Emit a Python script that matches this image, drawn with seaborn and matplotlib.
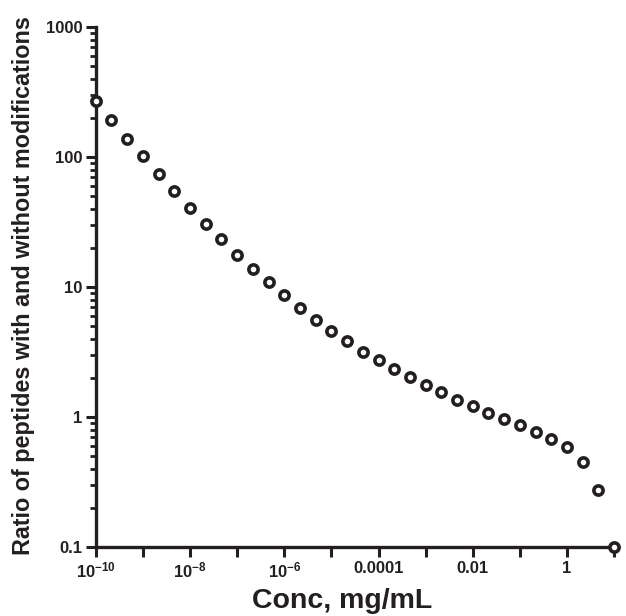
import numpy as np
import pandas as pd
import matplotlib
matplotlib.use("Agg")
import matplotlib.pyplot as plt
import matplotlib.ticker as mticker
import seaborn as sns

# Data (third-of-a-decade concentration steps)
conc_exponents = [-10 + k / 3 for k in range(34)]
ratio = [270, 193, 138, 102, 74, 55, 41, 30.5, 23.4, 17.6,
         13.7, 10.9, 8.7, 6.9, 5.6, 4.6, 3.85, 3.2, 2.74, 2.34,
         2.03, 1.76, 1.56, 1.37, 1.22, 1.07, 0.97, 0.87, 0.77, 0.68,
         0.59, 0.45, 0.275, 0.1]
x_tick_exponents = [-10, -8, -6, -4, -2, 0]
x_tick_labels = [r"$\mathbf{10^{-10}}$", r"$\mathbf{10^{-8}}$", r"$\mathbf{10^{-6}}$",
                 "0.0001", "0.01", "1"]
y_tick_values = [0.1, 1, 10, 100, 1000]
y_tick_labels = ["0.1", "1", "10", "100", "1000"]

df = pd.DataFrame({"conc": [10 ** e for e in conc_exponents], "ratio": ratio})

sns.set_style("ticks")
plt.rcParams["font.family"] = ["Liberation Sans", "DejaVu Sans"]
plt.rcParams["font.weight"] = "bold"
plt.rcParams["mathtext.fontset"] = "custom"
plt.rcParams["mathtext.rm"] = "Liberation Sans:bold"
plt.rcParams["mathtext.bf"] = "Liberation Sans:bold"

ink = "#231f20"

fig = plt.figure(figsize=(6.26, 6.16), dpi=100)
ax = fig.add_axes([0.153, 0.1115, 0.828, 0.8443])

sns.scatterplot(data=df, x="conc", y="ratio", ax=ax, marker="o", s=44,
                facecolor="white", edgecolor=ink, linewidth=2.6, clip_on=False, zorder=5)

ax.set_xscale("log")
ax.set_yscale("log")
ax.set_xlim(1e-10, 10)
ax.set_ylim(0.1, 1000)

# x ticks every decade, labels every other decade
decades = list(range(-10, 2))
ax.xaxis.set_major_locator(mticker.FixedLocator([10.0 ** e for e in decades]))
ax.xaxis.set_minor_locator(mticker.NullLocator())
lab_map = dict(zip(x_tick_exponents, x_tick_labels))
ax.set_xticklabels([lab_map.get(e, "") for e in decades])

ax.yaxis.set_major_locator(mticker.FixedLocator(y_tick_values))
ax.set_yticklabels(y_tick_labels)
ax.yaxis.set_minor_locator(mticker.LogLocator(base=10, subs=np.arange(2, 10)))
ax.yaxis.set_minor_formatter(mticker.NullFormatter())

ax.tick_params(axis="both", which="major", length=7, width=2.2, color=ink,
               labelsize=12, labelcolor=ink, pad=2.5)
ax.tick_params(axis="y", which="minor", length=4.5, width=2.0, color=ink)
for lab in ax.get_xticklabels() + ax.get_yticklabels():
    lab.set_fontweight("bold")

sns.despine(ax=ax)
for side in ["left", "bottom"]:
    ax.spines[side].set_linewidth(2.4)
    ax.spines[side].set_color(ink)

ax.set_xlabel("Conc, mg/mL", fontsize=20.5, fontweight="bold", color=ink)
ax.xaxis.set_label_coords(0.475, -0.079)
ax.set_ylabel("Ratio of peptides with and without modifications", fontsize=16.8,
              fontweight="bold", color=ink)
ax.yaxis.set_label_coords(-0.118, 0.5025)

fig.savefig("out.png", dpi=100)
